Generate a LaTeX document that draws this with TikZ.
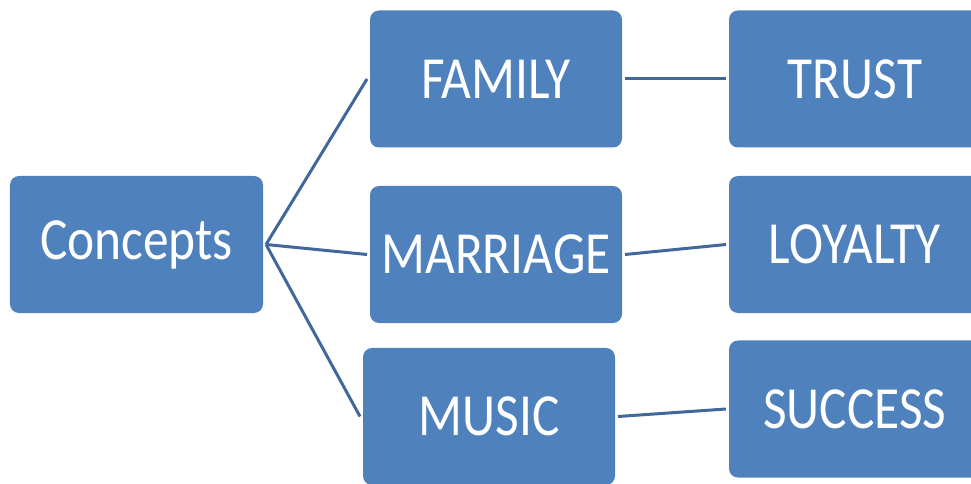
\documentclass[tikz,border=0pt]{standalone}
\usepackage{fontspec}
\setmainfont{Carlito}[FakeStretch=0.86]
\usepackage{xcolor}
\usepackage{tikz}
\definecolor{boxblue}{HTML}{4F81BD}
\definecolor{linkblue}{HTML}{41679B}
\tikzset{
  box/.style = {rectangle, rounded corners=9bp, fill=boxblue, text=white,
    align=center, inner sep=0pt, minimum width=252bp, minimum height=137bp,
    outer sep=3bp, font=\fontsize{60}{60}\selectfont},% boite bleue
  link/.style = {draw=linkblue, line width=3bp}% lien
}
\begin{document}
\begin{tikzpicture}[x=1bp,y=-1bp]
\useasboundingbox (0,0) rectangle (971,484);
\clip (0,0) rectangle (971,484);
\node [box, minimum width=253bp] (concepts) at (136.5,244.5) {Concepts};
\node [box] (family) at (496,79) {FAMILY};
\node [box] (marriage) at (496,254.5) {MARRIAGE};
\node [box] (music) at (489,416.5) {MUSIC};
\node [box] (trust) at (855,79) {TRUST};
\node [box] (loyalty) at (855,244.5) {LOYALTY};
\node [box] (success) at (855,409) {SUCCESS};
\draw [link] (concepts.east) -- (family.west);
\draw [link] (concepts.east) -- (marriage.west);
\draw [link] (concepts.east) -- (music.west);
\draw [link] (family.east) -- (trust.west);
\draw [link] (marriage.east) -- (loyalty.west);
\draw [link] (music.east) -- (success.west);
\end{tikzpicture}
\end{document}
